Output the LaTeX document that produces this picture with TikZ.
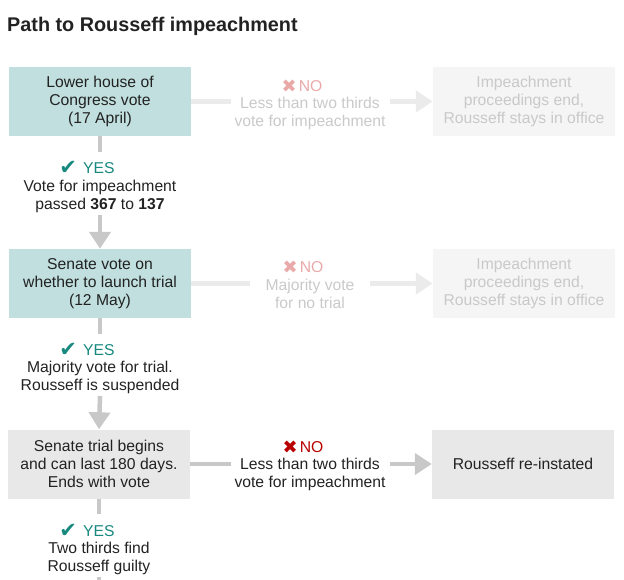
\documentclass[tikz,border=0pt]{standalone}
\usepackage{fontspec}
\setmainfont{Liberation Sans}
\newfontfamily\symfont{DejaVu Sans}
\usetikzlibrary{arrows.meta}
\definecolor{tealbox}{HTML}{C0DFDE}
\definecolor{yesgreen}{HTML}{17897F}
\definecolor{fadedred}{HTML}{EAA9A9}
\definecolor{nored}{HTML}{B80000}
\definecolor{fadetext}{HTML}{C9C9C9}
\definecolor{fadeline}{HTML}{EBEBEB}
\definecolor{lineg}{HTML}{C8C8C8}
\definecolor{ink}{HTML}{222222}
\definecolor{graybox}{HTML}{E8E8E8}
\definecolor{fadebox}{HTML}{F5F5F5}
\newcommand\bodyfs{\fontsize{15.7}{18}\selectfont}
\newcommand\chkmark{\raisebox{-1.5pt}{\symfont\fontsize{21}{21}\selectfont ✔}}
\newcommand\crossmark{\raisebox{-0.5pt}{\symfont\fontsize{18}{18}\selectfont ✖}}
\begin{document}
\begin{tikzpicture}[x=1pt,y=-1pt,
  box/.style={minimum width=182pt, minimum height=69pt, inner sep=0pt, align=center, font=\bodyfs, text=ink},
  txt/.style={inner sep=0pt, align=center, font=\bodyfs, text=ink},
  fadetxt/.style={txt, text=fadetext},
  yeslab/.style={inner sep=0pt, font=\bodyfs, text=yesgreen},
  nolab/.style={inner sep=0pt, font=\bodyfs, text=nored},
  fadenolab/.style={inner sep=0pt, font=\bodyfs, text=fadedred},
  conn/.style={draw=lineg, line width=4.5pt},
  fadeconn/.style={draw=fadeline, line width=4.5pt},
  tip/.style={-{Triangle[length=17pt,width=21pt]}}
]
\useasboundingbox (0,0) rectangle (624,580);
\node[anchor=base west, inner sep=0pt, font=\bfseries\fontsize{19.8}{22}\selectfont, text=ink] (title) at (7,32) {Path to Rousseff impeachment};

% main column
\node[box, fill=tealbox] (b1) at (100,101.5) {Lower house of\\Congress vote\\(17 April)};
\node[box, fill=tealbox] (b2) at (100,283.5) {Senate vote on\\whether to launch trial\\(12 May)};
\node[box, fill=graybox] (b3) at (99,464) {Senate trial begins\\and can last 180 days.\\Ends with vote};

\node[yeslab] (y1) at (87,168) {\chkmark\hspace{6pt}YES};
\node[txt] (v1) at (100,196) {Vote for impeachment\\passed \textbf{367} to \textbf{137}};
\node[yeslab] (y2) at (87,350) {\chkmark\hspace{6pt}YES};
\node[txt] (v2) at (100,377) {Majority vote for trial.\\Rousseff is suspended};
\node[yeslab] (y3) at (87,531) {\chkmark\hspace{6pt}YES};
\node[txt] (v3) at (99,558) {Two thirds find\\Rousseff guilty};

\coordinate (c1a) at (100,152);
\coordinate (c1b) at (100,215);
\coordinate (c2a) at (100,334);
\coordinate (c2b) at (100,396);
\coordinate (c3a) at (99,514);
\coordinate (c3b) at (99,577);
\coordinate (c3c) at (99,583);

\draw[conn] (b1.south) -- (c1a);
\draw[conn, tip] (c1b) -- (b2.north);
\draw[conn] (b2.south) -- (c2a);
\draw[conn, tip] (c2b) -- (b3.north);
\draw[conn] (b3.south) -- (c3a);
\draw[conn] (c3b) -- (c3c);

% right boxes
\node[box, fill=fadebox, text=fadetext] (r1) at (524,101.5) {Impeachment\\proceedings end,\\Rousseff stays in office};
\node[box, fill=fadebox, text=fadetext] (r2) at (524,283.5) {Impeachment\\proceedings end,\\Rousseff stays in office};
\node[box, fill=graybox] (r3) at (523,464) {Rousseff re-instated};

% no labels
\node[fadenolab] (n1) at (302,86) {\crossmark\hspace{2pt}NO};
\node[fadetxt] (m1) at (310,113) {Less than two thirds\\vote for impeachment};
\node[fadenolab] (n2) at (303,267) {\crossmark\hspace{2pt}NO};
\node[fadetxt] (m2) at (310,294) {Majority vote\\for no trial};
\node[nolab] (n3) at (303,447) {\crossmark\hspace{2pt}NO};
\node[txt] (m3) at (310,474) {Less than two thirds\\vote for impeachment};

\coordinate (h1a) at (231,101.5);
\coordinate (h1b) at (390,101.5);
\coordinate (h2a) at (250,283.5);
\coordinate (h2b) at (370,283.5);
\coordinate (h3a) at (231,464);
\coordinate (h3b) at (390,464);

\draw[fadeconn] (b1.east) -- (h1a);
\draw[fadeconn, tip] (h1b) -- (r1.west);
\draw[fadeconn] (b2.east) -- (h2a);
\draw[fadeconn, tip] (h2b) -- (r2.west);
\draw[conn] (b3.east) -- (h3a);
\draw[conn, tip] (h3b) -- (r3.west);
\end{tikzpicture}
\end{document}
